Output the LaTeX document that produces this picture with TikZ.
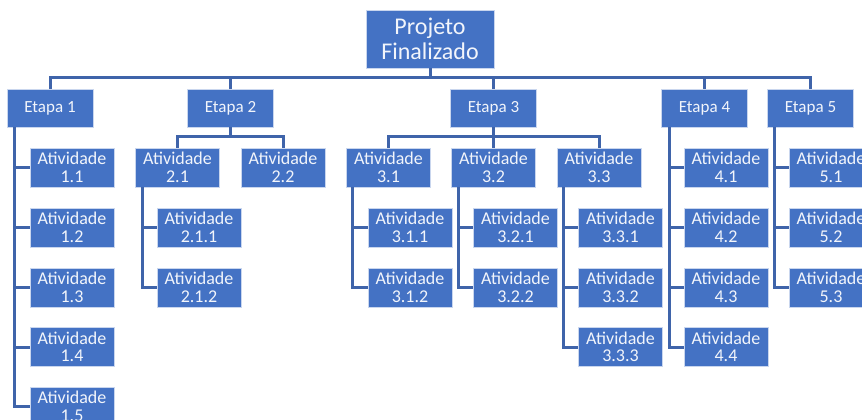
\documentclass[tikz,border=0pt]{standalone}
\usepackage{fontspec}
\setmainfont{Carlito}
\definecolor{boxblue}{HTML}{4472C4}
\definecolor{lineblue}{HTML}{3F64AA}
\definecolor{boxedge}{HTML}{C9D6EE}
\definecolor{txt}{HTML}{F2F5FB}
\begin{document}
\begin{tikzpicture}[x=1pt,y=-1pt,
  wbs/.style={rectangle, fill=boxblue, draw=boxedge, line width=0.7pt, text=txt, align=center, inner sep=0pt},
  topbox/.style={wbs, minimum width=128pt, minimum height=58pt, font=\fontsize{24}{25}\selectfont},
  etapa/.style={wbs, minimum width=86pt, minimum height=38pt, font=\fontsize{17}{18}\selectfont},
  ativ/.style={wbs, minimum width=84pt, minimum height=39pt, font=\fontsize{18}{17.5}\selectfont},
  link/.style={draw=lineblue, line width=3pt}]
\useasboundingbox (0,0) rectangle (862,420);
\clip (0,0) rectangle (862,420);
% top
\node[topbox] (P) at (430,39) {Projeto\\Finalizado};
% etapas
\node[etapa] (E1) at (50,108) {Etapa 1};
\node[etapa] (E2) at (230.5,108) {Etapa 2};
\node[etapa] (E3) at (493.5,108) {Etapa 3};
\node[etapa] (E4) at (704.5,108) {Etapa 4};
\node[etapa] (E5) at (810.5,108) {Etapa 5};
% etapa 1
\node[ativ] (a11) at (72,167.5) {Atividade\\1.1};
\node[ativ] (a12) at (72,227.5) {Atividade\\1.2};
\node[ativ] (a13) at (72,287.5) {Atividade\\1.3};
\node[ativ] (a14) at (72,347) {Atividade\\1.4};
\node[ativ] (a15) at (72,406.5) {Atividade\\1.5};
% etapa 2
\node[ativ] (a21) at (177.5,167.5) {Atividade\\2.1};
\node[ativ] (a22) at (283,167.5) {Atividade\\2.2};
\node[ativ] (a211) at (199,227.5) {Atividade\\2.1.1};
\node[ativ] (a212) at (199,287.5) {Atividade\\2.1.2};
% etapa 3
\node[ativ] (a31) at (388.5,167.5) {Atividade\\3.1};
\node[ativ] (a32) at (493.5,167.5) {Atividade\\3.2};
\node[ativ] (a33) at (599,167.5) {Atividade\\3.3};
\node[ativ] (a311) at (410,227.5) {Atividade\\3.1.1};
\node[ativ] (a312) at (410,287.5) {Atividade\\3.1.2};
\node[ativ] (a321) at (515.5,227.5) {Atividade\\3.2.1};
\node[ativ] (a322) at (515.5,287.5) {Atividade\\3.2.2};
\node[ativ] (a331) at (620.5,227.5) {Atividade\\3.3.1};
\node[ativ] (a332) at (620.5,287.5) {Atividade\\3.3.2};
\node[ativ] (a333) at (620.5,347) {Atividade\\3.3.3};
% etapa 4
\node[ativ] (a41) at (726,167.5) {Atividade\\4.1};
\node[ativ] (a42) at (726,227.5) {Atividade\\4.2};
\node[ativ] (a43) at (726,287.5) {Atividade\\4.3};
\node[ativ] (a44) at (726,347) {Atividade\\4.4};
% etapa 5
\node[ativ] (a51) at (831,167.5) {Atividade\\5.1};
\node[ativ] (a52) at (831,227.5) {Atividade\\5.2};
\node[ativ] (a53) at (831,287.5) {Atividade\\5.3};
% connectors: top level
\foreach \e in {E1,E2,E3,E4,E5}
  \draw[link] (P.south) |- ([yshift=11pt]\e.north) -- (\e.north);
% etapa 2 and 3 horizontal sub-bars
\foreach \c in {a21,a22}
  \draw[link] (E2.south) |- ([yshift=11pt]\c.north) -- (\c.north);
\foreach \c in {a31,a32,a33}
  \draw[link] (E3.south) |- ([yshift=11pt]\c.north) -- (\c.north);
% side-hanging children
\foreach \c in {a11,a12,a13,a14,a15}
  \draw[link] ([xshift=7.5pt]E1.south west) |- (\c.west);
\foreach \c in {a211,a212}
  \draw[link] ([xshift=7pt]a21.south west) |- (\c.west);
\foreach \c in {a311,a312}
  \draw[link] ([xshift=6.5pt]a31.south west) |- (\c.west);
\foreach \c in {a321,a322}
  \draw[link] ([xshift=7pt]a32.south west) |- (\c.west);
\foreach \c in {a331,a332,a333}
  \draw[link] ([xshift=7pt]a33.south west) |- (\c.west);
\foreach \c in {a41,a42,a43,a44}
  \draw[link] ([xshift=8pt]E4.south west) |- (\c.west);
\foreach \c in {a51,a52,a53}
  \draw[link] ([xshift=7pt]E5.south west) |- (\c.west);
\end{tikzpicture}
\end{document}
